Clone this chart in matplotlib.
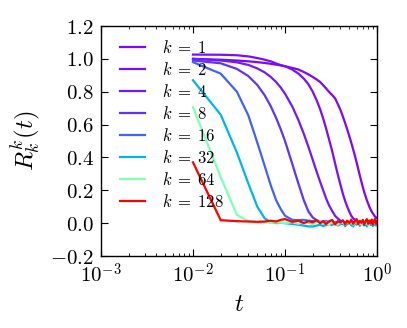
import math
import matplotlib
matplotlib.use("Agg")
import matplotlib.pyplot as plt
from matplotlib.ticker import FuncFormatter, LogLocator

plt.rcParams["mathtext.fontset"] = "cm"
plt.rcParams["font.family"] = ["DejaVu Serif"]

# tempos (eixo x)
t = [0.01, 0.02, 0.03, 0.04, 0.05, 0.06, 0.07, 0.08, 0.09, 0.10,
     0.12, 0.14, 0.16, 0.18, 0.20, 0.22, 0.24, 0.26, 0.28, 0.30,
     0.325, 0.35, 0.375, 0.4, 0.425, 0.45, 0.475, 0.5, 0.525, 0.55,
     0.575, 0.6, 0.625, 0.65, 0.675, 0.7, 0.725, 0.75, 0.775, 0.8,
     0.825, 0.85, 0.875, 0.9, 0.925, 0.95, 0.975, 1.0]

ks = [1, 2, 4, 8, 16, 32, 64, 128]

r_k1 = [1.00, 0.995, 0.99, 0.985, 0.98, 0.975, 0.97, 0.965, 0.96, 0.955,
        0.945, 0.935, 0.92, 0.905, 0.89, 0.875, 0.86, 0.84, 0.82, 0.80,
        0.78, 0.76, 0.725, 0.69, 0.65, 0.61, 0.57, 0.53, 0.49, 0.45,
        0.41, 0.37, 0.33, 0.29, 0.255, 0.22, 0.19, 0.165, 0.14, 0.12,
        0.10, 0.085, 0.07, 0.06, 0.05, 0.04, 0.035, 0.03]
r_k2 = [1.026, 1.025, 1.022, 1.015, 1.005, 0.995, 0.985, 0.972, 0.962, 0.955,
        0.935, 0.91, 0.88, 0.845, 0.80, 0.75, 0.696, 0.637, 0.575, 0.513,
        0.44, 0.365, 0.295, 0.235, 0.18, 0.135, 0.10, 0.07, 0.045, 0.03,
        0.02, 0.012, 0.008, 0.01, 0.005, 0.008, 0.004, 0.006, 0.003, 0.007,
        0.002, 0.005, 0.0, 0.004, -0.002, 0.003, 0.0, 0.002]
r_k4 = [1.00, 0.99, 0.979, 0.963, 0.942, 0.918, 0.89, 0.859, 0.825, 0.788,
        0.71, 0.627, 0.544, 0.463, 0.386, 0.316, 0.254, 0.20, 0.15, 0.11,
        0.075, 0.045, 0.028, 0.015, 0.01, 0.006, 0.008, 0.004, 0.007, 0.002,
        0.006, 0.0, 0.005, 0.008, 0.002, 0.004, -0.003, 0.005, 0.001, 0.006,
        -0.002, 0.004, 0.0, 0.007, -0.004, 0.003, -0.001, 0.004]
r_k8 = [0.99, 0.973, 0.939, 0.895, 0.841, 0.779, 0.712, 0.641, 0.57, 0.50,
        0.36, 0.24, 0.14, 0.07, 0.035, 0.018, 0.01, 0.008, 0.012, 0.006,
        0.01, 0.004, 0.009, 0.002, 0.006, 0.0, 0.005, -0.003, 0.004, 0.008,
        0.001, 0.006, -0.004, 0.003, 0.007, -0.002, 0.005, 0.0, 0.004, -0.005,
        0.002, 0.006, -0.003, 0.004, 0.001, -0.004, 0.003, 0.0]
r_k16 = [0.98, 0.91, 0.80, 0.655, 0.49, 0.35, 0.23, 0.14, 0.085, 0.045,
         0.02, 0.018, 0.02, 0.015, 0.012, 0.01, 0.005, 0.0, -0.005, 0.0,
         0.006, -0.004, 0.008, 0.002, -0.006, 0.004, 0.009, -0.003, 0.005, -0.008,
         0.003, 0.007, -0.005, 0.002, 0.008, -0.006, 0.004, -0.002, 0.006, -0.007,
         0.003, 0.009, -0.004, 0.005, -0.006, 0.002, 0.007, -0.003]
r_k32 = [0.87, 0.66, 0.43, 0.24, 0.10, 0.03, 0.005, 0.0, 0.002, 0.0,
         -0.005, -0.01, -0.015, -0.02, -0.02, -0.015, -0.01, -0.018, -0.012, -0.005,
         -0.012, 0.004, -0.015, -0.006, 0.006, -0.018, -0.004, 0.008, -0.012, -0.02,
         0.002, -0.01, 0.01, -0.016, -0.005, 0.006, -0.014, 0.003, -0.02, -0.006,
         0.008, -0.012, 0.0, -0.018, 0.005, -0.01, -0.015, 0.004]
r_k64 = [0.705, 0.28, 0.05, 0.012, 0.005, 0.004, 0.002, 0.004, 0.003, 0.0,
         0.006, -0.004, 0.008, 0.002, -0.006, 0.005, 0.01, -0.002, 0.004, -0.008,
         0.006, 0.0, -0.01, 0.007, 0.002, -0.006, 0.01, -0.003, 0.005, -0.009,
         0.004, 0.011, -0.005, 0.002, -0.008, 0.006, 0.012, -0.004, 0.003, -0.01,
         0.007, 0.0, 0.01, -0.006, 0.004, 0.012, -0.007, 0.005]
r_k128 = [0.37, 0.018, 0.012, 0.01, 0.008, 0.01, 0.015, 0.01, 0.02, 0.025,
          0.008, 0.015, 0.0, 0.012, 0.005, 0.018, 0.0, 0.012, -0.005, 0.01,
          0.02, -0.008, 0.012, 0.004, 0.018, -0.006, 0.015, 0.0, 0.022, -0.004,
          0.01, 0.025, -0.006, 0.014, 0.002, 0.02, -0.01, 0.012, 0.024, -0.004,
          0.016, 0.0, 0.022, -0.008, 0.012, 0.026, -0.005, 0.01]

curvas = [r_k1, r_k2, r_k4, r_k8, r_k16, r_k32, r_k64, r_k128]

fig = plt.figure(figsize=(4.07, 3.28), dpi=100)
ax = fig.add_axes([101 / 407, 1 - 256 / 328, 276 / 407, 230 / 328])

for k, r in zip(ks, curvas):
    ax.plot(t, r, color=plt.cm.rainbow(k / 128), lw=1.6, label=r"$k\;=\;%d$" % k)

ax.set_xscale("log")
ax.set_xlim(1e-3, 1e0)
ax.set_ylim(-0.2, 1.2)
ax.set_yticks([-0.2, 0.0, 0.2, 0.4, 0.6, 0.8, 1.0, 1.2])
ax.xaxis.set_major_locator(LogLocator(base=10, numticks=10))
ax.xaxis.set_minor_locator(LogLocator(base=10, subs=range(2, 10), numticks=10))
ax.xaxis.set_major_formatter(FuncFormatter(lambda v, p: r"$10^{%d}$" % round(math.log10(v))))
ax.yaxis.set_major_formatter(FuncFormatter(lambda v, p: r"$%.1f$" % v))

ax.tick_params(which="both", direction="in", top=True, right=True, labelsize=15, pad=5)
ax.tick_params(which="major", length=5, width=0.8)
ax.tick_params(which="minor", length=2.5, width=0.6)
for s in ax.spines.values():
    s.set_linewidth(1.0)

ax.set_xlabel(r"$t$", fontsize=18, labelpad=4)
ax.set_ylabel(r"$R_k^k(t)$", fontsize=18, labelpad=6)

ax.legend(loc="upper left", bbox_to_anchor=(0.015, 1.005), frameon=False, fontsize=12,
          handlelength=1.5, handletextpad=1.0, labelspacing=0.3, borderaxespad=0.5)

fig.savefig("out.png", dpi=100)
